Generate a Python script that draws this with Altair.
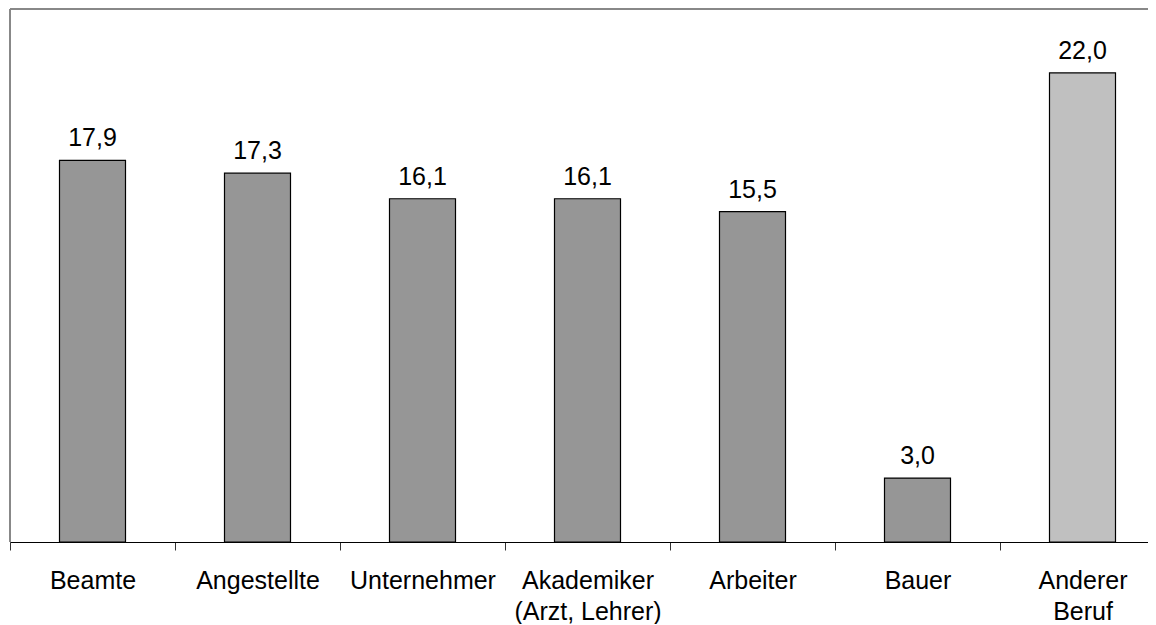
import altair as alt
import pandas as pd

categories = ["Beamte", "Angestellte", "Unternehmer", "Akademiker|(Arzt, Lehrer)", "Arbeiter", "Bauer", "Anderer|Beruf"]
values = [17.9, 17.3, 16.1, 16.1, 15.5, 3.0, 22.0]
labels = ["17,9", "17,3", "16,1", "16,1", "15,5", "3,0", "22,0"]
colors = ["#969696", "#969696", "#969696", "#969696", "#969696", "#969696", "#C0C0C0"]

df = pd.DataFrame({"cat": categories, "val": values, "lab": labels, "col": colors})

FONT = "Liberation Sans"
W = 1138
H = 533

xscale = alt.Scale(paddingInner=0, paddingOuter=0, range=[0, 1155])

x = alt.X("cat:N", sort=categories, title=None, scale=xscale,
          axis=alt.Axis(labelAngle=0, labelExpr="split(datum.label, '|')",
                        labelFont=FONT, labelFontSize=25, labelColor="#000000",
                        labelLineHeight=31, labelPadding=18, labelBaseline="top",
                        tickBand="extent", tickSize=8, tickColor="#333333",
                        domainColor="#000000", domainWidth=1.2, grid=False))
y = alt.Y("val:Q", title=None, scale=alt.Scale(domain=[0, 25], nice=False),
          axis=None)

bars = alt.Chart(df).mark_bar(stroke="#000000", strokeWidth=1.2,
                              width=alt.RelativeBandSize(0.4)).encode(
    x=x, y=y, fill=alt.Fill("col:N", scale=None))

text = alt.Chart(df).mark_text(font=FONT, fontSize=25, baseline="alphabetic", dy=-14,
                              color="#000000").encode(
    x=alt.X("cat:N", sort=categories), y="val:Q", text="lab:N")

top_line = alt.Chart(df).mark_rule(color="#888888", strokeWidth=1.5).encode(
    x=alt.value(0), x2=alt.value(W), y=alt.value(0))
left_line = alt.Chart(df).mark_rule(color="#888888", strokeWidth=1.5).encode(
    x=alt.value(0), y=alt.value(0), y2=alt.value(H))

chart = (top_line + left_line + bars + text).properties(
    width=W, height=H,
    autosize=alt.AutoSizeParams(type="none"),
    padding={"left": 2, "top": 1, "right": 0, "bottom": 82}
).configure_view(stroke=None).configure(background="white")

chart.save("out.html", embed_options={"renderer": "svg", "actions": False})
